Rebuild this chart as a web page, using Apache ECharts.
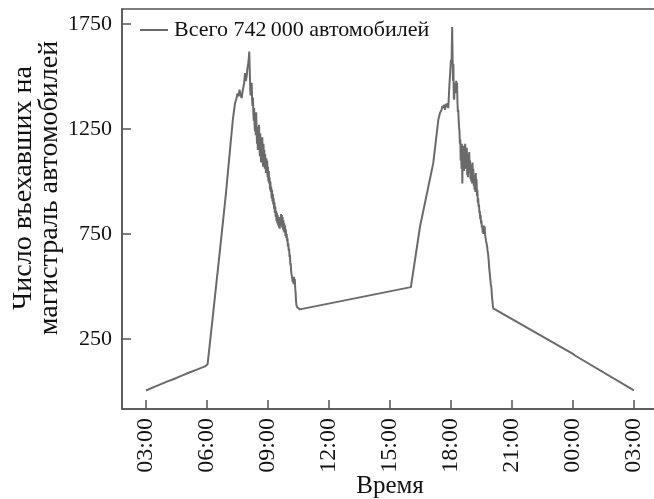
<!DOCTYPE html>
<html>
<head>
<meta charset="utf-8">
<script src="https://cdn.jsdelivr.net/npm/echarts@6/dist/echarts.min.js"></script>
<style>
  html, body { margin: 0; padding: 0; background: #fff; }
  #chart { width: 654px; height: 499px; }
</style>
</head>
<body>
<div id="chart"></div>
<script>
// [hour, vehicles] — hours count from midnight of the first day; values past 24 are the next night

// Early morning and morning rush
const morning = [
  [3.00, 3], [3.50, 24], [4.00, 44], [4.50, 63], [5.00, 84], [5.50, 103], [5.90, 118],
  [6.03, 128], [6.28, 350], [6.64, 674], [6.93, 940], [7.18, 1200], [7.28, 1300], [7.38, 1373],
  [7.45, 1395], [7.50, 1420], [7.55, 1405], [7.60, 1437], [7.65, 1412], [7.71, 1397],
  [7.75, 1430], [7.79, 1421], [7.83, 1470], [7.87, 1516], [7.91, 1478], [7.95, 1500],
  [7.99, 1540], [8.03, 1563], [8.06, 1592], [8.08, 1619],
  [8.10, 1540], [8.12, 1470], [8.14, 1410], [8.16, 1450], [8.18, 1430], [8.20, 1470],
  [8.22, 1390], [8.24, 1360], [8.26, 1400], [8.28, 1330], [8.30, 1290], [8.32, 1350],
  [8.34, 1270], [8.36, 1240], [8.38, 1310], [8.40, 1220], [8.42, 1330], [8.44, 1250],
  [8.46, 1180], [8.48, 1260], [8.50, 1150], [8.52, 1230], [8.54, 1160], [8.56, 1270],
  [8.58, 1190], [8.60, 1120], [8.62, 1230], [8.64, 1140], [8.66, 1090], [8.68, 1200],
  [8.70, 1120], [8.72, 1210], [8.74, 1130], [8.76, 1070], [8.78, 1180], [8.80, 1110],
  [8.82, 1150], [8.84, 1060], [8.86, 1130], [8.88, 1080], [8.90, 1040], [8.92, 1110],
  [8.94, 1050], [8.96, 1100], [8.98, 1020], [9.00, 1070], [9.02, 1000], [9.04, 1050],
  [9.06, 990], [9.08, 1020], [9.10, 960], [9.12, 1000], [9.14, 950], [9.16, 975],
  [9.18, 920], [9.20, 960], [9.22, 905], [9.24, 940], [9.26, 890], [9.28, 920],
  [9.30, 870], [9.32, 900], [9.34, 850], [9.36, 880], [9.38, 830], [9.40, 860],
  [9.42, 810], [9.44, 850], [9.46, 800], [9.48, 840], [9.50, 790], [9.52, 830],
  [9.54, 780], [9.56, 820], [9.58, 775], [9.60, 830], [9.62, 790], [9.64, 845],
  [9.66, 800], [9.68, 840], [9.70, 780], [9.72, 830], [9.74, 770], [9.76, 815],
  [9.78, 760], [9.80, 800], [9.82, 755], [9.84, 790], [9.86, 740], [9.88, 770],
  [9.90, 730], [9.92, 750], [9.94, 715], [9.96, 730], [9.98, 690], [10.00, 705],
  [10.02, 670], [10.04, 680], [10.06, 640], [10.08, 650], [10.10, 600], [10.12, 610],
  [10.14, 570], [10.16, 575], [10.18, 545], [10.20, 550], [10.22, 520], [10.24, 530],
  [10.26, 510], [10.28, 545], [10.30, 520], [10.32, 535], [10.34, 490], [10.36, 470],
  [10.38, 430], [10.40, 410], [10.44, 400], [10.50, 398], [10.57, 390]
];

// Afternoon and evening rush
const evening = [
  [16.03, 496], [16.07, 499], [16.48, 785], [17.13, 1087], [17.38, 1294], [17.46, 1326],
  [17.54, 1341], [17.58, 1360], [17.62, 1350], [17.66, 1365], [17.71, 1341], [17.75, 1370],
  [17.79, 1355], [17.83, 1373], [17.87, 1349], [17.92, 1452], [17.95, 1500], [18.00, 1580],
  [18.03, 1560], [18.06, 1736],
  [18.08, 1600], [18.10, 1480], [18.12, 1560], [18.14, 1400], [18.16, 1390], [18.18, 1460],
  [18.20, 1420], [18.22, 1470], [18.24, 1440], [18.26, 1480], [18.28, 1420], [18.30, 1470],
  [18.32, 1380], [18.34, 1330], [18.36, 1340], [18.38, 1290], [18.40, 1260], [18.42, 1240],
  [18.44, 1180], [18.46, 1200], [18.48, 1100], [18.50, 1150], [18.52, 1060], [18.54, 1180],
  [18.56, 990], [18.58, 1140], [18.60, 1080], [18.62, 1170], [18.64, 1050], [18.66, 1120],
  [18.68, 1070], [18.70, 1180], [18.72, 1060], [18.74, 1150], [18.76, 1090], [18.78, 1160],
  [18.80, 1030], [18.82, 1110], [18.84, 1020], [18.86, 1130], [18.88, 1040], [18.90, 1140],
  [18.92, 1060], [18.94, 1100], [18.96, 1010], [18.98, 1080], [19.00, 1000], [19.02, 1070],
  [19.04, 990], [19.06, 1090], [19.08, 1010], [19.10, 1060], [19.12, 980], [19.14, 1030],
  [19.16, 960], [19.18, 1010], [19.20, 950], [19.22, 1040], [19.24, 960], [19.26, 1010],
  [19.28, 930], [19.30, 960], [19.32, 900], [19.34, 920], [19.36, 880], [19.38, 890],
  [19.40, 850], [19.42, 860], [19.44, 820], [19.46, 840], [19.48, 800], [19.50, 815],
  [19.52, 780], [19.54, 790], [19.56, 755], [19.58, 770], [19.60, 750], [19.62, 790],
  [19.64, 760], [19.66, 785], [19.68, 745], [19.70, 750], [19.72, 720], [19.74, 725],
  [19.76, 700], [19.78, 690], [19.80, 670], [19.82, 660], [19.84, 640], [19.86, 620],
  [19.88, 590], [19.90, 570], [19.92, 550], [19.94, 530], [19.96, 510], [19.98, 500],
  [20.00, 480], [20.02, 450], [20.04, 430], [20.06, 410], [20.08, 395], [20.10, 390]
];

// Late evening and night
const night = [
  [24.00, 178], [24.10, 170], [27.00, 4]
];

const hourTicks = [3, 6, 9, 12, 15, 18, 21, 24, 27];
const countTicks = [250, 750, 1250, 1750];
const seriesName = 'Всего 742\u2009000 автомобилей';

const serif = "'Liberation Serif', 'Times New Roman', serif";
const axisColor = '#555555';
const lineColor = '#6a6a6a';

const chart = echarts.init(document.getElementById('chart'), null, { renderer: 'canvas' });

chart.setOption({
  animation: false,
  backgroundColor: '#ffffff',
  textStyle: { fontFamily: serif, color: '#111' },
  grid: {
    left: 122, right: -10, top: 9, bottom: 90,
    outerBoundsMode: 'none',
    show: true, borderColor: axisColor, borderWidth: 1.5,
    backgroundColor: 'transparent'
  },
  legend: {
    left: 135, top: 14,
    icon: 'rect',
    itemWidth: 28, itemHeight: 2, itemGap: 10,
    itemStyle: { color: lineColor },
    textStyle: { fontFamily: serif, fontSize: 22, color: '#111', padding: [0, 0, 0, 1] },
    data: [{ name: seriesName }]
  },
  xAxis: {
    type: 'value',
    min: 1.82, max: 28.48,
    axisLine: { show: true, onZero: false, lineStyle: { color: axisColor, width: 1.5 } },
    axisTick: { show: true, inside: true, length: 9, customValues: hourTicks,
                lineStyle: { color: axisColor, width: 1.5 } },
    axisLabel: {
      customValues: hourTicks,
      rotate: 90, margin: 9,
      fontFamily: serif, fontSize: 24, color: '#111',
      formatter: v => String(Math.round(v) % 24).padStart(2, '0') + ':00'
    },
    splitLine: { show: false }
  },
  yAxis: {
    type: 'value',
    min: -85, max: 1822,
    axisLine: { show: true, onZero: false, lineStyle: { color: axisColor, width: 1.5 } },
    axisTick: { show: true, inside: true, length: 9, customValues: countTicks,
                lineStyle: { color: axisColor, width: 1.5 } },
    axisLabel: {
      customValues: countTicks,
      margin: 10,
      fontFamily: serif, fontSize: 22, color: '#111',
      formatter: v => String(Math.round(v))
    },
    splitLine: { show: false }
  },
  graphic: [{
    // Y axis title, two lines, reading bottom to top
    type: 'text',
    x: 37, y: 188,
    rotation: Math.PI / 2,
    style: {
      x: 0, y: 0,
      text: 'Число въехавших на\nмагистраль автомобилей',
      align: 'center', verticalAlign: 'middle',
      font: "28px 'Liberation Serif', 'Times New Roman', serif",
      lineHeight: 26,
      fill: '#111'
    }
  }, {
    // X axis title
    type: 'text',
    x: 390, y: 486,
    style: {
      x: 0, y: 0,
      text: 'Время',
      align: 'center', verticalAlign: 'middle',
      font: "25px 'Liberation Serif', 'Times New Roman', serif",
      fill: '#111'
    }
  }],
  series: [{
    name: seriesName,
    type: 'line',
    symbol: 'none',
    showSymbol: false,
    lineStyle: { color: lineColor, width: 2 },
    itemStyle: { color: lineColor },
    data: morning.concat(evening, night)
  }]
});
</script>
</body>
</html>
